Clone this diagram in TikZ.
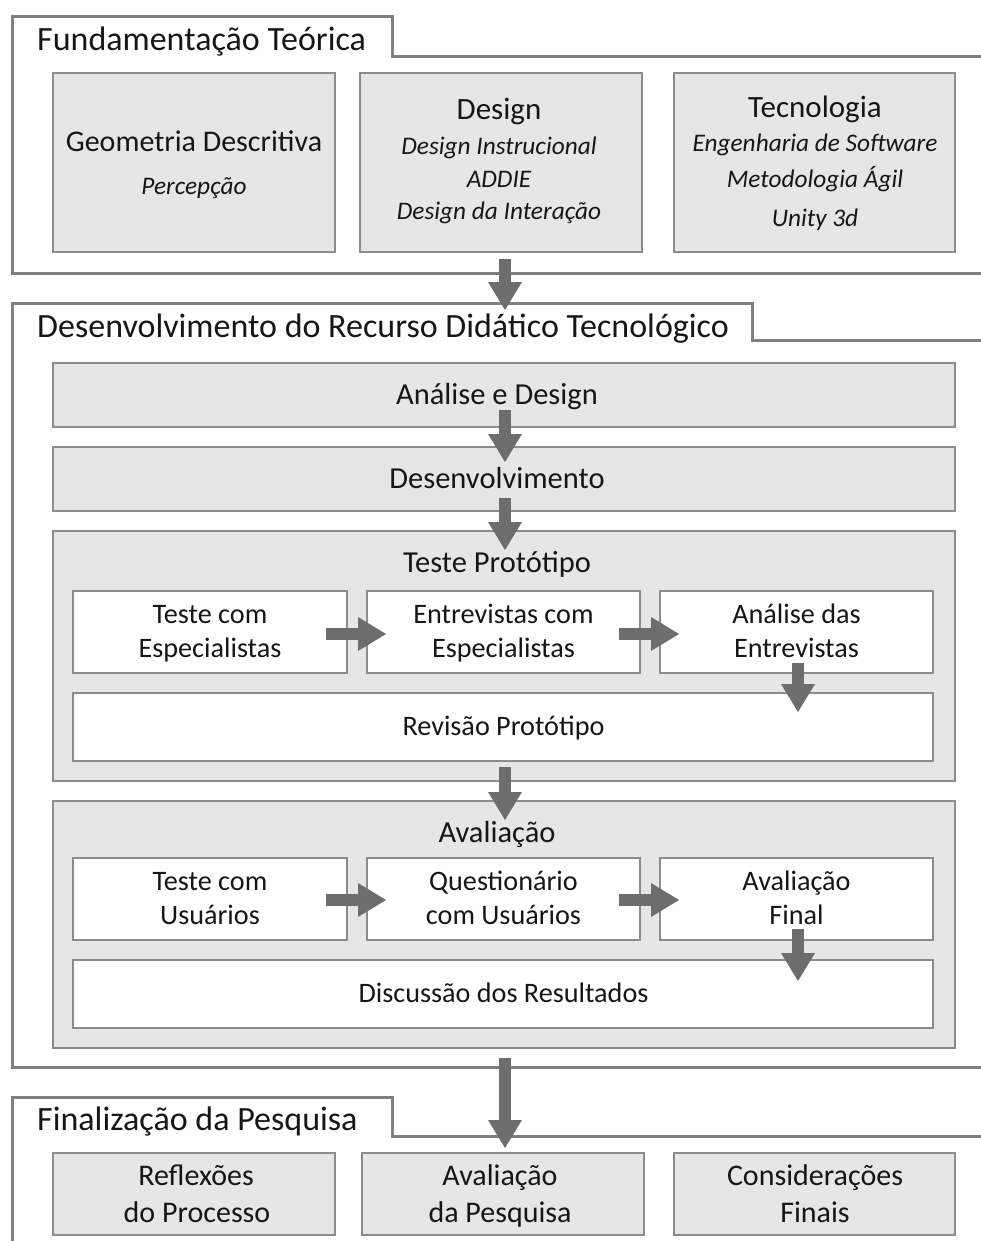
\documentclass[tikz,border=0pt]{standalone}
\usepackage{fontspec}
\setmainfont{Carlito}
\usetikzlibrary{arrows.meta,fit}
\definecolor{framegray}{HTML}{808080}
\definecolor{boxgray}{HTML}{8C8C8C}
\definecolor{boxfill}{HTML}{E6E6E6}
\definecolor{arrowgray}{HTML}{6D6D6D}
\definecolor{ink}{HTML}{161616}
\begin{document}
\begin{tikzpicture}[x=1pt,y=-1pt,
  frame/.style={draw=framegray,line width=3pt,line join=miter},
  graybox/.style={draw=boxgray,fill=boxfill,line width=2pt,inner sep=0pt,outer sep=0pt},
  whitebox/.style={draw=boxgray,fill=white,line width=2pt,inner sep=0pt,outer sep=0pt},
  sectitle/.style={anchor=base west,inner sep=0pt,text=ink,font=\fontsize{34}{39}\selectfont},
  head/.style={anchor=base,inner sep=0pt,text=ink,font=\fontsize{31}{36}\selectfont},
  sub/.style={anchor=base,inner sep=0pt,text=ink,font=\fontsize{25.3}{30}\selectfont\itshape},
  steplabel/.style={anchor=base,inner sep=0pt,text=ink,font=\fontsize{30.5}{35}\selectfont},
  label/.style={anchor=base,inner sep=0pt,text=ink,font=\fontsize{28.2}{32}\selectfont},
  finlabel/.style={anchor=base,inner sep=0pt,text=ink,font=\fontsize{30}{34}\selectfont},
  bigarrow/.style={draw=arrowgray,line width=12pt,
    -{Triangle[width=34pt,length=28pt,line width=0pt]}}]
\useasboundingbox (0,0) rectangle (981,1241);

% ---- section frames with title tabs
\draw[frame] (983,57) -- (392,57) -- (392,17) -- (12,17) -- (12,273) -- (983,273);
\draw[frame] (983,340) -- (752,340) -- (752,303) -- (12,303) -- (12,1067) -- (983,1067);
\draw[frame] (983,1136) -- (392,1136) -- (392,1097) -- (12,1097) -- (12,1243);

\node[sectitle] (t1) at (37,51) {Fundamentação Teórica};
\node[sectitle] (t2) at (37,337) {Desenvolvimento do Recurso Didático Tecnológico};
\node[sectitle] (t3) at (37,1130) {Finalização da Pesquisa};

% ---- Fundamentação Teórica
\node[graybox,fit={(53,73) (335,252)}] (geo) {};
\node[graybox,fit={(360,73) (642,252)}] (design) {};
\node[graybox,fit={(674,73) (955,252)}] (tec) {};

\node[label,font=\fontsize{30}{34}\selectfont] (geoA) at (194,152) {Geometria Descritiva};
\node[sub] (geoB) at (194,195) {Percepção};

\node[head] (desA) at (499,120) {Design};
\node[sub] (desB) at (499,155) {Design Instrucional};
\node[sub] (desC) at (499,188) {ADDIE};
\node[sub] (desD) at (499,220) {Design da Interação};

\node[head] (tecA) at (815,118) {Tecnologia};
\node[sub] (tecB) at (815,152) {Engenharia de Software};
\node[sub] (tecC) at (815,188) {Metodologia Ágil};
\node[sub] (tecD) at (815,227) {Unity 3d};

% ---- Desenvolvimento do Recurso Didático Tecnológico
\node[graybox,fit={(53,363) (955,427)}] (analise) {};
\node[steplabel] at (497,404) {Análise e Design};
\node[graybox,fit={(53,447) (955,511)}] (desenv) {};
\node[steplabel] at (497,488) {Desenvolvimento};

\node[graybox,fit={(53,531) (955,781)}] (teste) {};
\node[steplabel] at (497,572) {Teste Protótipo};
\node[whitebox,fit={(73,591) (347,673)}] (esp1) {};
\node[whitebox,fit={(367,591) (640,673)}] (esp2) {};
\node[whitebox,fit={(660,591) (933,673)}] (esp3) {};
\node[label] at (210,623) {Teste com};
\node[label] at (210,657) {Especialistas};
\node[label] at (503.5,623) {Entrevistas com};
\node[label] at (503.5,657) {Especialistas};
\node[label] at (796.5,623) {Análise das};
\node[label] at (796.5,657) {Entrevistas};
\node[whitebox,fit={(73,693) (933,761)}] (revisao) {};
\node[label] at (503.5,735) {Revisão Protótipo};

\node[graybox,fit={(53,801) (955,1048)}] (aval) {};
\node[steplabel] at (497,842) {Avaliação};
\node[whitebox,fit={(73,858) (347,940)}] (usu1) {};
\node[whitebox,fit={(367,858) (640,940)}] (usu2) {};
\node[whitebox,fit={(660,858) (933,940)}] (usu3) {};
\node[label] at (210,890) {Teste com};
\node[label] at (210,924) {Usuários};
\node[label] at (503.5,890) {Questionário};
\node[label] at (503.5,924) {com Usuários};
\node[label] at (796.5,890) {Avaliação};
\node[label] at (796.5,924) {Final};
\node[whitebox,fit={(73,960) (933,1028)}] (discussao) {};
\node[label] at (503.5,1002) {Discussão dos Resultados};

% ---- Finalização da Pesquisa
\node[graybox,fit={(53,1153) (335,1235)}] (refl) {};
\node[graybox,fit={(362,1153) (644,1235)}] (avpesq) {};
\node[graybox,fit={(674,1153) (955,1235)}] (consid) {};
\node[finlabel] at (196,1185) {Reflexões};
\node[finlabel] at (197,1222) {do Processo};
\node[finlabel] at (500,1185) {Avaliação};
\node[finlabel] at (500,1222) {da Pesquisa};
\node[finlabel] at (815,1185) {Considerações};
\node[finlabel] at (815,1222) {Finais};

% ---- flow arrows
\draw[bigarrow] ([xshift=4pt,yshift=-7pt]design.south) -- ([xshift=1pt,yshift=53pt]analise.north);
\draw[bigarrow] ([xshift=1pt,yshift=17pt]analise.south) -- ([xshift=1pt,yshift=-15pt]desenv.north);
\draw[bigarrow] ([xshift=1pt,yshift=13pt]desenv.south) -- ([xshift=1pt,yshift=-19pt]teste.north);
\draw[bigarrow] ([xshift=1pt,yshift=14pt]teste.south) -- ([xshift=1pt,yshift=-19pt]aval.north);
\draw[bigarrow] ([xshift=1pt,yshift=-10pt]aval.south) -- ([xshift=2pt,yshift=5pt]avpesq.north);

\draw[bigarrow] ([xshift=-21pt,yshift=-2pt]esp1.east) -- ([xshift=19pt,yshift=-2pt]esp2.west);
\draw[bigarrow] ([xshift=-21pt,yshift=-2pt]esp2.east) -- ([xshift=19pt,yshift=-2pt]esp3.west);
\draw[bigarrow] ([xshift=1.5pt,yshift=10pt]esp3.south) -- ([xshift=1.5pt,yshift=-19pt]esp3.south |- revisao.north);

\draw[bigarrow] ([xshift=-21pt,yshift=-1pt]usu1.east) -- ([xshift=19pt,yshift=-1pt]usu2.west);
\draw[bigarrow] ([xshift=-21pt,yshift=-1pt]usu2.east) -- ([xshift=19pt,yshift=-1pt]usu3.west);
\draw[bigarrow] ([xshift=1.5pt,yshift=11pt]usu3.south) -- ([xshift=1.5pt,yshift=-21pt]usu3.south |- discussao.north);
\end{tikzpicture}
\end{document}
